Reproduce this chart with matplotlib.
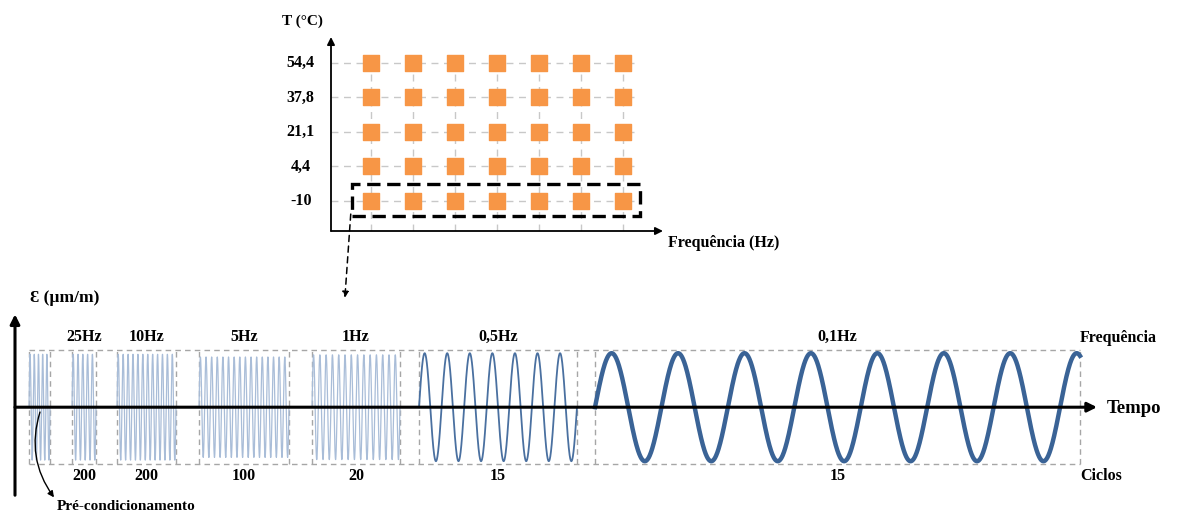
#!/usr/bin/env python3

import numpy as np
from matplotlib import pyplot as plt

# temperature x frequency test matrix
temps = ['54,4', '37,8', '21,1', '4,4', '-10']
n_freq_cols = 7

# strain sweep blocks (first one is the pre-conditioning)
blocks = ['pre', '25Hz', '10Hz', '5Hz', '1Hz', '0,5Hz', '0,1Hz']
freq_labels = ['', '25Hz', '10Hz', '5Hz', '1Hz', '0,5Hz', '0,1Hz']
cycle_labels = ['', '200', '200', '100', '20', '15', '15']
drawn_cycles = [5, 5, 12, 16, 14, 7, 7.3]
amplitudes = [0.98, 0.98, 0.98, 0.93, 0.97, 1.0, 1.0]

# layout (schematic time axis, pixels from the strain axis)
block_left = [14, 57, 102, 184, 297, 404, 580]
block_right = [35, 81, 161, 274, 385, 562, 1065]
wave_colors = ['#a9bdd8'] * 5 + ['#4a70a0', '#3a6396']
wave_widths = [0.9] * 5 + [1.3, 3.2]

plt.rcParams['font.family'] = ['Liberation Serif', 'DejaVu Serif']
plt.rcParams['font.weight'] = 'bold'

W, H = 1177, 513
fig = plt.figure(figsize=(W / 100, H / 100), dpi=100)


def px_axes(x0, x1, y0, y1):
    '''add axes given its box in image pixels (y measured from the top)'''
    return fig.add_axes([x0 / W, 1 - y1 / H, (x1 - x0) / W, (y1 - y0) / H])


arrow = dict(arrowstyle='-|>', color='k', shrinkA=0, shrinkB=0)

# ---- top: test matrix ----
ax_m = px_axes(331, 663, 37, 231)
ax_m.set_xlim(-0.95, 6.95)
ax_m.set_ylim(-0.87, 4.75)
ax_m.axis('off')

rows = np.arange(len(temps))[::-1]
cols = np.arange(n_freq_cols)
for r in rows:
    ax_m.plot([-0.95, 6.25], [r, r], ls=(0, (5, 4)), color='#c8c8c8', lw=1, zorder=1)
for c in cols:
    ax_m.plot([c, c], [-0.87, rows.max()], ls=(0, (5, 4)), color='#c8c8c8', lw=1, zorder=1)
cc, rr = np.meshgrid(cols, rows)
ax_m.scatter(cc.ravel(), rr.ravel(), marker='s', s=125, color='#f79646', zorder=3)

for r, t in zip(rows, temps):
    ax_m.text(-1.67, r, t, ha='center', va='center', fontsize=11.5)

ax_m.annotate('', xy=(-0.95, 4.75), xytext=(-0.95, -0.87),
              arrowprops=dict(arrow, lw=1.3, mutation_scale=11), annotation_clip=False)
ax_m.annotate('', xy=(6.95, -0.87), xytext=(-0.95, -0.87),
              arrowprops=dict(arrow, lw=1.3, mutation_scale=11), annotation_clip=False)
ax_m.text(-1.64, 5.22, 'T (°C)', ha='center', va='center', fontsize=11)
ax_m.text(7.07, -1.22, 'Frequência (Hz)', ha='left', va='center', fontsize=11.5)

# highlighted -10 row
ax_m.add_patch(plt.Rectangle((-0.45, -0.43), 6.85, 0.92, fill=False, ec='k', lw=2.4,
                             ls=(0, (4, 2)), zorder=4, clip_on=False))
ax_m.annotate('', xy=(-0.62, -2.81), xytext=(-0.48, -0.38),
              arrowprops=dict(arrowstyle='-|>', color='k', lw=1.1, ls=(0, (4, 3)),
                              mutation_scale=9, shrinkA=0, shrinkB=0),
              annotation_clip=False)

# ---- bottom: strain signal ----
ax_w = px_axes(15, 1095, 310, 499)
ax_w.set_xlim(0, 1080)
ax_w.set_ylim(-1.7, 1.8)
ax_w.axis('off')

box_h = 1.06
grey = dict(color='#a6a6a6', lw=1, ls=(0, (4, 3)))
ax_w.plot([block_left[0], block_right[-1]], [box_h, box_h], **grey)
ax_w.plot([block_left[0], block_right[-1]], [-box_h, -box_h], **grey)
for i in range(len(blocks)):
    x0, x1 = block_left[i], block_right[i]
    ax_w.plot([x0, x0], [-box_h, box_h], **grey)
    ax_w.plot([x1, x1], [-box_h, box_h], **grey)
    t = np.linspace(0, drawn_cycles[i], 1500)
    ax_w.plot(x0 + (x1 - x0) * t / drawn_cycles[i], amplitudes[i] * np.sin(2 * np.pi * t),
              color=wave_colors[i], lw=wave_widths[i], zorder=2)
    xm = (x0 + x1) / 2
    ax_w.text(xm, 1.30, freq_labels[i], ha='center', va='center', fontsize=11.5)
    ax_w.text(xm, -1.27, cycle_labels[i], ha='center', va='center', fontsize=11.5)

ax_w.annotate('', xy=(0, 1.72), xytext=(0, -1.63),
              arrowprops=dict(arrow, lw=2.2, mutation_scale=14), annotation_clip=False)
ax_w.annotate('', xy=(1082, 0), xytext=(0, 0),
              arrowprops=dict(arrow, lw=2.2, mutation_scale=14), annotation_clip=False, zorder=3)

ax_w.text(15, 2.02, 'Ɛ (µm/m)', ha='left', va='center', fontsize=12.5)
ax_w.text(1065, 1.28, 'Frequência', ha='left', va='center', fontsize=11.5)
ax_w.text(1065, -1.27, 'Ciclos', ha='left', va='center', fontsize=11.5)
ax_w.text(1092, -0.02, 'Tempo', ha='left', va='center', fontsize=13.5)
ax_w.text(42, -1.83, 'Pré-condicionamento', ha='left', va='center', fontsize=11)
ax_w.annotate('', xy=(39, -1.67), xytext=(25, -0.09),
              arrowprops=dict(arrowstyle='-|>', color='k', lw=1, mutation_scale=9,
                              connectionstyle='arc3,rad=0.25', shrinkA=0, shrinkB=0),
              annotation_clip=False)

fig.savefig('out.png', dpi=100)
